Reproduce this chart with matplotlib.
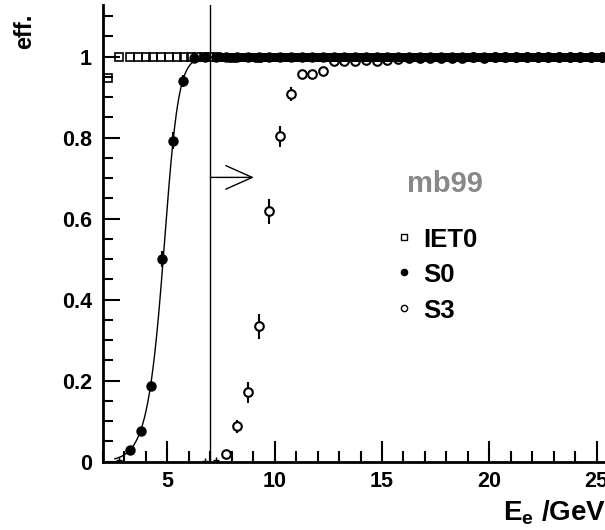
import numpy as np
import matplotlib
matplotlib.use("Agg")
import matplotlib.pyplot as plt
from matplotlib.ticker import MultipleLocator, FuncFormatter

plt.rcParams['font.family'] = ['Liberation Sans', 'DejaVu Sans']
plt.rcParams['font.weight'] = 'bold'
plt.rcParams['mathtext.fontset'] = 'custom'
plt.rcParams['mathtext.rm'] = 'Liberation Sans:bold'
plt.rcParams['mathtext.it'] = 'Liberation Sans:bold'
plt.rcParams['mathtext.bf'] = 'Liberation Sans:bold'

# ---------------- data ----------------
# IET0 trigger efficiency, low-energy bins
iet0_x = [2.22, 2.74, 3.26, 3.63, 3.99, 4.35, 4.72, 5.07, 5.43, 5.77,
          6.10, 6.40, 6.70, 7.00, 7.30]
iet0_y = [0.947, 1.000, 0.999, 1.000, 1.000, 1.000, 0.999, 1.000, 1.000, 1.000,
          0.999, 1.000, 1.000, 0.999, 1.000]
# IET0, fine bins from 7.6 GeV in steps of 0.1 GeV
iet0_fine_start = 7.6
iet0_fine_step = 0.1
iet0_fine_y = [
    1.000, 0.999, 1.000, 1.000, 0.998, 1.000, 1.000, 0.999, 1.000, 1.000,
    1.000, 1.000, 0.999, 1.000, 1.000, 1.000, 0.998, 1.000, 1.000, 0.999,
    1.000, 1.000, 1.000, 0.999, 1.000, 1.000, 1.000, 1.000, 0.999, 1.000,
    0.999, 1.000, 1.000, 1.000, 1.000, 0.999, 1.000, 1.000, 1.000, 1.000,
    1.000, 0.999, 1.000, 1.000, 1.000, 1.000, 1.000, 0.999, 1.000, 1.000,
    1.000, 1.000, 1.000, 1.000, 0.999, 1.000, 1.000, 1.000, 1.000, 0.999,
    1.000, 1.000, 0.999, 1.000, 1.000, 1.000, 1.000, 1.000, 1.000, 0.999,
    1.000, 1.000, 1.000, 1.000, 0.999, 1.000, 1.000, 1.000, 1.000, 1.000,
    0.999, 1.000, 1.000, 1.000, 1.000, 1.000, 0.999, 1.000, 1.000, 1.000,
    1.000, 1.000, 1.000, 0.999, 1.000, 1.000, 1.000, 1.000, 1.000, 1.000,
    1.000, 0.999, 1.000, 1.000, 1.000, 1.000, 1.000, 1.000, 0.999, 1.000,
    1.000, 1.000, 1.000, 1.000, 1.000, 0.999, 1.000, 1.000, 1.000, 1.000,
    1.000, 1.000, 0.999, 1.000, 1.000, 1.000, 1.000, 1.000, 1.000, 1.000,
    0.999, 1.000, 1.000, 1.000, 1.000, 1.000, 1.000, 0.999, 1.000, 1.000,
    1.000, 1.000, 1.000, 1.000, 0.999, 1.000, 1.000, 1.000, 1.000, 1.000,
    1.000, 0.999, 1.000, 1.000, 1.000, 1.000, 1.000, 1.000, 1.000, 0.999,
    1.000, 1.000, 1.000, 0.999, 1.000, 1.000, 1.000, 1.000, 1.000, 1.000,
    1.000, 1.000, 1.000, 1.000, 0.999, 1.000, 1.000, 1.000, 1.000, 1.000,
]

# S0 efficiency, 0.5 GeV bins centred at 2.75 ... 25.25
s0_x = np.arange(2.75, 25.5, 0.5)
s0_y = [0.004, 0.028, 0.077, 0.188, 0.500, 0.793, 0.940, 0.997,
        0.999, 1.000, 0.999, 1.000, 1.000, 0.999, 1.000, 1.000, 0.999, 1.000,
        1.000, 1.000, 0.999, 1.000, 1.000, 1.000, 0.999, 1.000, 1.000, 1.000,
        1.000, 0.999, 1.000, 1.000, 1.000, 1.000, 0.999, 1.000, 1.000, 1.000,
        1.000, 1.000, 0.999, 1.000, 1.000, 1.000, 1.000, 1.000]
s0_err = [0.002, 0.006, 0.009, 0.012, 0.020, 0.020, 0.015, 0.004,
          0.002, 0.002, 0.002, 0.002, 0.002, 0.002, 0.002, 0.002, 0.002, 0.002,
          0.002, 0.002, 0.002, 0.002, 0.002, 0.002, 0.002, 0.002, 0.002, 0.002,
          0.002, 0.002, 0.002, 0.002, 0.002, 0.002, 0.002, 0.002, 0.002, 0.002,
          0.002, 0.002, 0.002, 0.002, 0.002, 0.002, 0.002, 0.002]

# S3 efficiency, 0.5 GeV bins centred at 6.75 ... 25.25
s3_x = np.arange(6.75, 25.5, 0.5)
s3_y = [0.002, 0.003, 0.020, 0.087, 0.171, 0.334, 0.618, 0.803, 0.908, 0.958,
        0.958, 0.964, 0.990, 0.990, 0.990, 0.991, 0.990, 0.992, 0.994, 0.996,
        0.997, 0.996, 0.998, 0.997, 0.998, 0.999, 0.998, 0.999, 0.999, 1.000,
        0.999, 0.999, 1.000, 0.999, 1.000, 1.000, 0.999, 1.000]
s3_err = [0.002, 0.002, 0.005, 0.016, 0.025, 0.031, 0.031, 0.025, 0.017, 0.010,
          0.010, 0.010, 0.006, 0.005, 0.005, 0.005, 0.005, 0.004, 0.004, 0.003,
          0.003, 0.003, 0.003, 0.003, 0.002, 0.002, 0.002, 0.002, 0.002, 0.002,
          0.002, 0.002, 0.002, 0.002, 0.002, 0.002, 0.002, 0.002]

# S0 turn-on fit: (1 + exp(-(E - mu)/s))^(-a)
fit_mu, fit_s, fit_a = 5.04, 0.302, 0.6
fit_range = (2.55, 7.5)

cut_energy = 7.0
x_ticks = [5, 10, 15, 20, 25]
y_ticks = [0, 0.2, 0.4, 0.6, 0.8, 1.0]

# ---------------- figure ----------------
W, H = 605, 530
fig = plt.figure(figsize=(W / 100, H / 100), dpi=100)
x0_px, y0_px, ytop_px = 103, 461.7, 5
ax = fig.add_axes([x0_px / W, (H - y0_px) / H, 1 - x0_px / W, (y0_px - ytop_px) / H])
ax.set_xlim(2, 2 + (W - x0_px) / 21.46)
ax.set_ylim(0, (y0_px - ytop_px) / 405)

for side in ('top', 'right'):
    ax.spines[side].set_visible(False)
for side in ('left', 'bottom'):
    ax.spines[side].set_linewidth(2)

ax.xaxis.set_major_locator(plt.FixedLocator(x_ticks))
ax.xaxis.set_minor_locator(MultipleLocator(1))
ax.yaxis.set_major_locator(plt.FixedLocator(y_ticks))
ax.yaxis.set_minor_locator(MultipleLocator(0.05))
ax.yaxis.set_major_formatter(FuncFormatter(lambda v, p: '%g' % v))
ax.tick_params(axis='x', which='major', direction='in', length=15, width=1.5,
               labelsize=15.5, pad=7)
ax.tick_params(axis='x', which='minor', direction='in', length=8, width=1.5)
ax.tick_params(axis='y', which='major', direction='in', length=12, width=1.5,
               labelsize=15.5, pad=8)
ax.tick_params(axis='y', which='minor', direction='in', length=7, width=1.5)

# S0 fit curve
xf = np.linspace(fit_range[0], fit_range[1], 300)
ax.plot(xf, (1 + np.exp(-(xf - fit_mu) / fit_s)) ** (-fit_a), color='k', lw=1, zorder=4)

# points: visible markers for non-zero bins, crosses for empty ones
s0_x = np.asarray(s0_x); s0_y = np.asarray(s0_y); s0_err = np.asarray(s0_err)
s3_x = np.asarray(s3_x); s3_y = np.asarray(s3_y); s3_err = np.asarray(s3_err)
m0 = s0_y > 0.01
m3 = s3_y > 0.01
ax.errorbar(s0_x[m0], s0_y[m0], yerr=s0_err[m0], ls='none', marker='o', ms=6.5,
            mfc='k', mec='k', ecolor='k', elinewidth=1.5, capsize=0, zorder=5)
ax.errorbar(s3_x[m3], s3_y[m3], yerr=s3_err[m3], ls='none', marker='o', ms=6.2,
            mfc='white', mec='k', mew=1.5, ecolor='k', elinewidth=1.5, capsize=0, zorder=6)
ax.plot(s0_x[~m0], s0_y[~m0], ls='none', marker='+', ms=5, mew=1, color='k', zorder=5)
ax.plot(s3_x[~m3], s3_y[~m3], ls='none', marker='+', ms=5, mew=1, color='k', zorder=5)

# IET0 open squares, drawn on top (fine bins overlap into a solid strip)
iet0_fine_x = iet0_fine_start + iet0_fine_step * np.arange(len(iet0_fine_y))
ax.plot(iet0_x, iet0_y, ls='none', marker='s', ms=5.2, mfc='none', mec='k', mew=1.2, zorder=7)
ax.plot(iet0_fine_x, iet0_fine_y, ls='none', marker='s', ms=4.8, mfc='none', mec='k', mew=1.9,
        zorder=7)

# energy cut line and arrow
ax.axvline(cut_energy, color='k', lw=1, zorder=2)
ax.annotate('', xy=(9.03, 0.702), xytext=(cut_energy, 0.702),
            arrowprops=dict(arrowstyle='->,head_length=1.9,head_width=0.85',
                            lw=1, color='k', shrinkA=0, shrinkB=0, mutation_scale=10))

# labels
def fx(px):
    return px / W

def fy(py):
    return 1 - py / H

fig.text(fx(25), fy(31), 'eff.', rotation=90, ha='center', va='center', fontsize=17)
fig.text(fx(503), fy(520.7), r'E$_{\mathregular{e}}$ /GeV', ha='left', va='baseline', fontsize=20)

fig.text(fx(406.7), fy(191.7), 'mb99', color='#888888', ha='left', va='baseline', fontsize=21)
legend_rows = [('IET0', 's', 'none', 246.7), ('S0', 'o', 'k', 282), ('S3', 'o', 'white', 318)]
for label, mk, fc, base in legend_rows:
    fig.text(fx(423), fy(base), label, ha='left', va='baseline', fontsize=18.5)
    ax.plot([fx(404)], [fy(base - 10)], transform=fig.transFigure, marker=mk, ms=4.5,
            mfc=fc, mec='k', mew=1, ls='none', clip_on=False)

fig.savefig('out.png', dpi=100)
